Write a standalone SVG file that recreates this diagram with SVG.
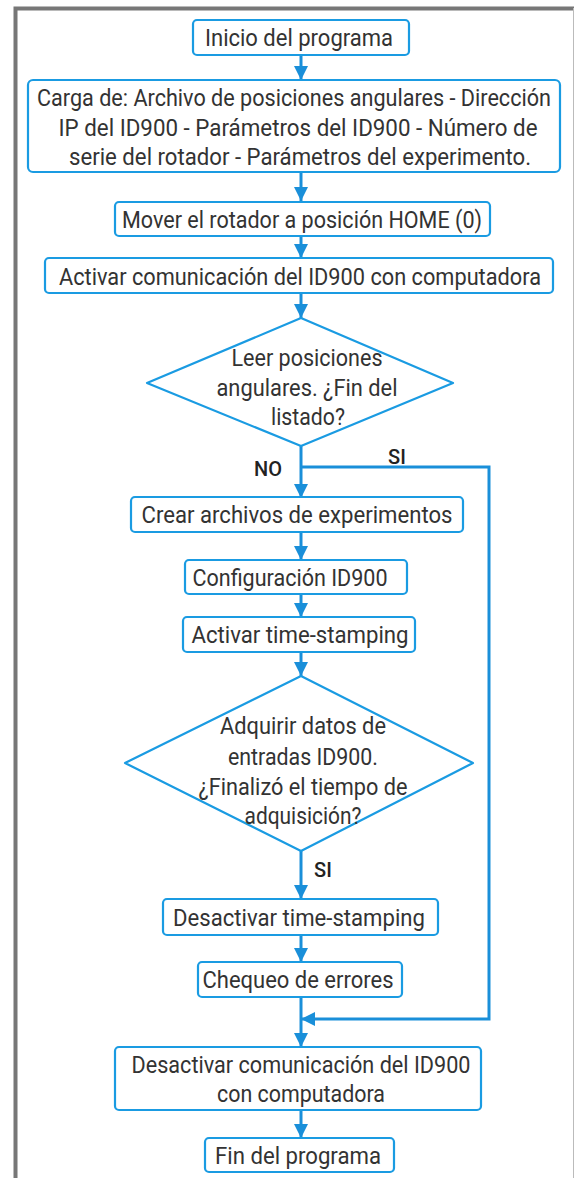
<svg xmlns="http://www.w3.org/2000/svg" width="574" height="1178" viewBox="0 0 574 1178">
<defs>
<style>
.box{fill:#fff;stroke:#1a9be2;stroke-width:2.2}
.t{font-family:Roboto,"Liberation Sans",sans-serif;font-size:23px;fill:#333;text-anchor:middle}
.lbl{font-family:Roboto,"Liberation Sans",sans-serif;font-size:20px;fill:#222;font-weight:500;text-anchor:middle}
.ln{fill:none;stroke:#1a8fd9;stroke-width:3}
</style>
<marker id="ah" markerUnits="userSpaceOnUse" markerWidth="14" markerHeight="14" viewBox="0 0 14 14" refX="14" refY="7" orient="auto">
<path d="M0,0 L14,7 L0,14 Z" fill="#1a8fd9"/>
</marker>
</defs>
<rect width="574" height="1178" fill="#fff"/>
<path d="M15.5,1178 V8.5 H574" fill="none" stroke="#777" stroke-width="4"/>
<line x1="573.5" y1="8" x2="573.5" y2="1178" stroke="#bbb" stroke-width="1"/>
<g id="connectors">
<line class="ln" x1="301" y1="56" x2="301" y2="80" marker-end="url(#ah)"/>
<line class="ln" x1="301" y1="172" x2="301" y2="201" marker-end="url(#ah)"/>
<line class="ln" x1="301" y1="236" x2="301" y2="258" marker-end="url(#ah)"/>
<line class="ln" x1="301" y1="293" x2="301" y2="318" marker-end="url(#ah)"/>
<line class="ln" x1="301" y1="446" x2="301" y2="498" marker-end="url(#ah)"/>
<polyline class="ln" points="301,467 489,467 489,1019 301,1019" marker-end="url(#ah)"/>
<line class="ln" x1="301" y1="533" x2="301" y2="560" marker-end="url(#ah)"/>
<line class="ln" x1="301" y1="594" x2="301" y2="617" marker-end="url(#ah)"/>
<line class="ln" x1="301" y1="652" x2="301" y2="676" marker-end="url(#ah)"/>
<line class="ln" x1="301" y1="851" x2="301" y2="899" marker-end="url(#ah)"/>
<line class="ln" x1="301" y1="935" x2="301" y2="962" marker-end="url(#ah)"/>
<line class="ln" x1="301" y1="997" x2="301" y2="1047" marker-end="url(#ah)"/>
<line class="ln" x1="301" y1="1110" x2="301" y2="1138" marker-end="url(#ah)"/>
<text class="lbl" x="268" y="476">NO</text>
<text class="lbl" x="397" y="464">SI</text>
<text class="lbl" x="323" y="877">SI</text>
</g>
<g id="n1"><rect class="box" x="193" y="20" width="216" height="35" rx="4"/><text class="t" x="299" y="45.5" textLength="188" lengthAdjust="spacingAndGlyphs">Inicio del programa</text></g>
<g id="n2"><rect class="box" x="28" y="80" width="532" height="92" rx="5"/>
<text class="t" x="294" y="106" font-size="21.5" textLength="514" lengthAdjust="spacingAndGlyphs">Carga de: Archivo de posiciones angulares - Dirección</text>
<text class="t" x="298" y="135.5" textLength="479" lengthAdjust="spacingAndGlyphs">IP del ID900 - Parámetros del ID900 - Número de</text>
<text class="t" x="300" y="164.5" textLength="462" lengthAdjust="spacingAndGlyphs">serie del rotador - Parámetros del experimento.</text></g>
<g id="n3"><rect class="box" x="115" y="202" width="375" height="34" rx="4"/><text class="t" x="302" y="227.5" textLength="360" lengthAdjust="spacingAndGlyphs">Mover el rotador a posición HOME (0)</text></g>
<g id="n4"><rect class="box" x="45" y="258" width="508" height="35" rx="4"/><text class="t" x="300" y="284.5" textLength="482" lengthAdjust="spacingAndGlyphs">Activar comunicación del ID900 con computadora</text></g>
<g id="n5"><path class="box" d="M301,318 L453,383 L301,446 L147,383 Z" stroke-linejoin="round"/>
<text class="t" x="307" y="365.5" textLength="151" lengthAdjust="spacingAndGlyphs">Leer posiciones</text>
<text class="t" x="307" y="395.5" textLength="181" lengthAdjust="spacingAndGlyphs">angulares. ¿Fin del</text>
<text class="t" x="308" y="424.5" textLength="74" lengthAdjust="spacingAndGlyphs">listado?</text></g>
<g id="n6"><rect class="box" x="131" y="497" width="332" height="35" rx="4"/><text class="t" x="297" y="522.5" textLength="311" lengthAdjust="spacingAndGlyphs">Crear archivos de experimentos</text></g>
<g id="n7"><rect class="box" x="185" y="560" width="222" height="34" rx="4"/><text class="t" x="290" y="585.5" textLength="195" lengthAdjust="spacingAndGlyphs">Configuración ID900</text></g>
<g id="n8"><rect class="box" x="183" y="617" width="232" height="35" rx="4"/><text class="t" x="300" y="642.5" textLength="217" lengthAdjust="spacingAndGlyphs">Activar time-stamping</text></g>
<g id="n9"><path class="box" d="M301,676 L473,763 L301,851 L125,763 Z" stroke-linejoin="round"/>
<text class="t" x="303" y="733.5" textLength="166" lengthAdjust="spacingAndGlyphs">Adquirir datos de</text>
<text class="t" x="303" y="764.5" textLength="150" lengthAdjust="spacingAndGlyphs">entradas ID900.</text>
<text class="t" x="303" y="794.5" textLength="209" lengthAdjust="spacingAndGlyphs">¿Finalizó el tiempo de</text>
<text class="t" x="303" y="823.5" textLength="117" lengthAdjust="spacingAndGlyphs">adquisición?</text></g>
<g id="n10"><rect class="box" x="163" y="899" width="275" height="36" rx="4"/><text class="t" x="299" y="925.5" textLength="252" lengthAdjust="spacingAndGlyphs">Desactivar time-stamping</text></g>
<g id="n11"><rect class="box" x="198" y="962" width="204" height="35" rx="4"/><text class="t" x="298" y="987.5" textLength="191" lengthAdjust="spacingAndGlyphs">Chequeo de errores</text></g>
<g id="n12"><rect class="box" x="115" y="1047" width="366" height="63" rx="4"/>
<text class="t" x="301" y="1072.5" textLength="339" lengthAdjust="spacingAndGlyphs">Desactivar comunicación del ID900</text>
<text class="t" x="301" y="1101.5" textLength="168" lengthAdjust="spacingAndGlyphs">con computadora</text></g>
<g id="n13"><rect class="box" x="205" y="1138" width="189" height="34" rx="4"/><text class="t" x="298" y="1163.5" textLength="166" lengthAdjust="spacingAndGlyphs">Fin del programa</text></g>
</svg>
